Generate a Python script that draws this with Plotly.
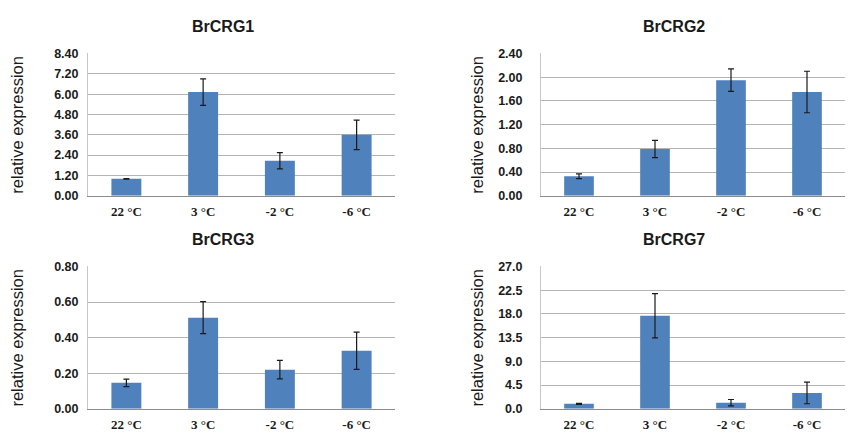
import plotly.graph_objects as go

temps = ["22 °C", "3 °C", "-2 °C", "-6 °C"]

genes = ["BrCRG1", "BrCRG2", "BrCRG3", "BrCRG7"]
crg1_mean = [1.00, 6.12, 2.07, 3.60]
crg1_err = [0.02, 0.78, 0.48, 0.87]
crg2_mean = [0.33, 0.79, 1.95, 1.75]
crg2_err = [0.04, 0.145, 0.19, 0.35]
crg3_mean = [0.146, 0.512, 0.220, 0.326]
crg3_err = [0.021, 0.09, 0.052, 0.105]
crg7_mean = [0.95, 17.65, 1.16, 3.00]
crg7_err = [0.1, 4.2, 0.6, 2.05]

y_ticks = [
    [0.0, 1.2, 2.4, 3.6, 4.8, 6.0, 7.2, 8.4],
    [0.0, 0.4, 0.8, 1.2, 1.6, 2.0, 2.4],
    [0.0, 0.2, 0.4, 0.6, 0.8],
    [0.0, 4.5, 9.0, 13.5, 18.0, 22.5, 27.0],
]
tick_fmt = ["%.2f", "%.2f", "%.2f", "%.1f"]

means = [crg1_mean, crg2_mean, crg3_mean, crg7_mean]
errs = [crg1_err, crg2_err, crg3_err, crg7_err]

W, H = 854, 439
# panel plot areas in pixels: (left, right, top, bottom)
panels = [
    (88, 395, 48, 195),
    (541, 845, 48, 195),
    (88, 395, 268, 415),
    (541, 845, 268, 415),
]
# title centre x, y-title centre x, tick label gap (pixels)
title_x = [223, 674, 223, 674]
ytitle_x = [17, 477, 17, 477]
label_gap = [6, 15, 6, 15]

BAR = "#4F81BD"
TEXT = "#1a1a1a"
fig = go.Figure()
layout = dict(
    width=W, height=H, margin=dict(l=0, r=0, t=0, b=0),
    paper_bgcolor="white", plot_bgcolor="white", showlegend=False,
)
annotations = []
for i in range(4):
    l, r, t, b = panels[i]
    xa = "x" if i == 0 else f"x{i+1}"
    ya = "y" if i == 0 else f"y{i+1}"
    fig.add_trace(go.Bar(
        x=temps, y=means[i], xaxis=xa, yaxis=ya,
        marker=dict(color=BAR, line=dict(width=0)),
        error_y=dict(type="data", array=errs[i], color=TEXT,
                     thickness=1.2, width=3),
        width=0.39,
    ))
    xkey = "xaxis" if i == 0 else f"xaxis{i+1}"
    ykey = "yaxis" if i == 0 else f"yaxis{i+1}"
    ticks = y_ticks[i]
    layout[xkey] = dict(
        domain=[l / W, r / W], anchor=ya,
        showgrid=False, showline=True, linecolor="#8c8c8c", linewidth=1,
        ticks="", ticklabelstandoff=4,
        tickfont=dict(family="Liberation Serif", size=13, color=TEXT, weight="bold"),
        tickangle=0, fixedrange=True,
    )
    layout[ykey] = dict(
        domain=[1 - b / H, 1 - t / H], anchor=xa,
        range=[0, ticks[-1]], tickmode="array", tickvals=ticks,
        ticktext=[tick_fmt[i] % v for v in ticks],
        showgrid=True, gridcolor="#b4b4b4", gridwidth=1,
        showline=True, linecolor="#c8c8c8", linewidth=1, zeroline=False,
        ticks="", ticklabelstandoff=label_gap[i],
        tickfont=dict(family="Liberation Sans", size=12.5, color=TEXT, weight="bold"),
        fixedrange=True,
    )
    annotations.append(dict(
        text=f"<b>{genes[i]}</b>", x=title_x[i] / W,
        y=1 - (t - 28) / H, xref="paper", yref="paper",
        showarrow=False, xanchor="center", yanchor="middle",
        font=dict(family="Liberation Sans", size=16, color=TEXT),
    ))
    annotations.append(dict(
        text="relative expression", x=ytitle_x[i] / W,
        y=1 - (t + b) / 2 / H, xref="paper", yref="paper", textangle=-90,
        showarrow=False, xanchor="center", yanchor="middle",
        font=dict(family="Liberation Sans", size=16.5, color=TEXT),
    ))
layout["annotations"] = annotations
fig.update_layout(**layout)
fig.write_html("out.html")
